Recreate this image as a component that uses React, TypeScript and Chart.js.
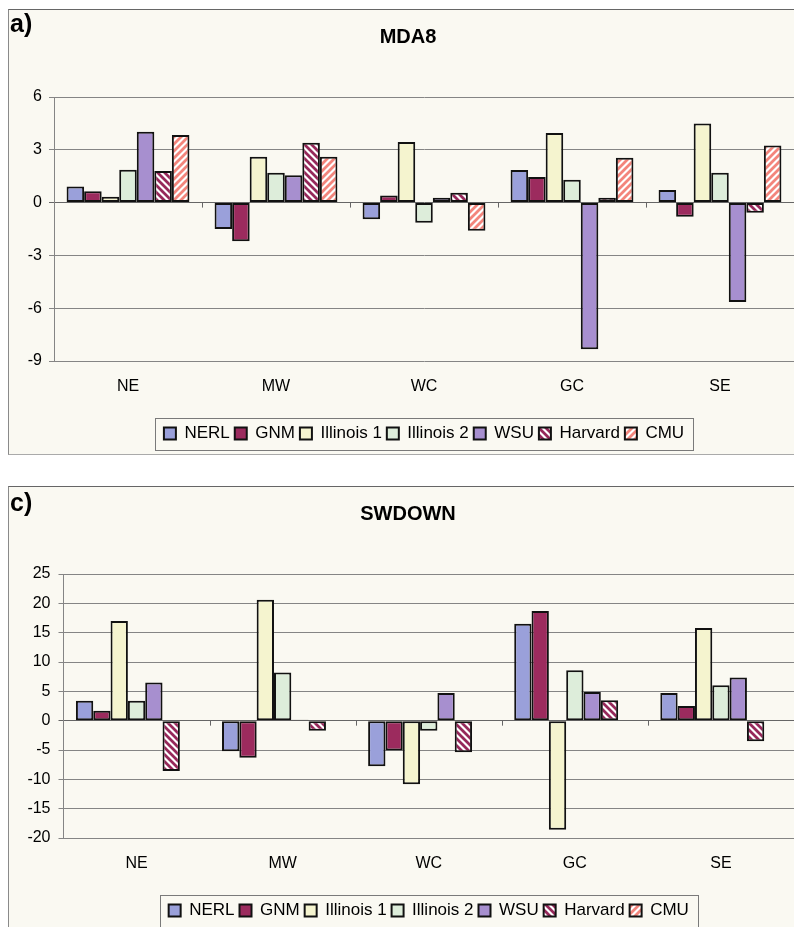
import React, { useEffect, useRef } from "react";
import { Chart, registerables } from "chart.js";

Chart.register(...registerables);

// ---------- data ----------
const regions = ["NE", "MW", "WC", "GC", "SE"];
const seriesNames = ["NERL", "GNM", "Illinois 1", "Illinois 2", "WSU", "Harvard", "CMU"];

// a) MDA8
const mda8NERL = [0.92, -1.5, -0.95, 1.85, 0.72];
const mda8GNM = [0.65, -2.2, 0.4, 1.45, -0.8];
const mda8Illinois1 = [0.33, 2.6, 3.45, 3.95, 4.5];
const mda8Illinois2 = [1.87, 1.7, -1.15, 1.3, 1.7];
const mda8WSU = [4.03, 1.55, 0.28, -8.33, -5.65];
const mda8Harvard = [1.8, 3.4, 0.56, 0.28, -0.58];
const mda8CMU = [3.84, 2.6, -1.6, 2.55, 3.25];
const mda8Ticks = { min: -9, max: 6, step: 3 };

// c) SWDOWN
const swNERL = [3.4, -5.2, -7.75, 16.5, 4.7];
const swGNM = [1.7, -6.3, -5.1, 18.7, 2.5];
const swIllinois1 = [17.0, 20.6, -10.85, -18.6, 15.8];
const swIllinois2 = [3.4, 8.2, -1.7, 8.6, 6.05];
const swWSU = [6.5, 0.15, 4.7, 4.9, 7.35];
const swHarvard = [-8.6, -1.7, -5.4, 3.5, -3.5];
const swCMU: (number | null)[] = [null, null, null, null, null];
const swTicks = { min: -20, max: 25, step: 5 };

// ---------- styling ----------
const FONT = "'Liberation Sans', Arial, Helvetica, sans-serif";
const solidColors = ["#9AA0DA", "#9C2B5E", "#F5F4CF", "#DDEDDA", "#A78FCF"];
const harvardStripe = "#96285A";
const cmuStripe = "#F3857C";

function makeStripe(color: string, dir: "back" | "fwd") {
  const s = 7;
  const c = document.createElement("canvas");
  c.width = s;
  c.height = s;
  const g = c.getContext("2d")!;
  g.fillStyle = "#ffffff";
  g.fillRect(0, 0, s, s);
  g.strokeStyle = color;
  g.lineWidth = 2.8;
  g.beginPath();
  for (const o of [-s, 0, s]) {
    if (dir === "back") {
      g.moveTo(o - 1, -1);
      g.lineTo(o + s + 1, s + 1);
    } else {
      g.moveTo(o - 1, s + 1);
      g.lineTo(o + s + 1, -1);
    }
  }
  g.stroke();
  return g.createPattern(c, "repeat")!;
}

const extrasPlugin = {
  id: "extras",
  beforeDatasetsDraw(chart: any) {
    const ctx = chart.ctx;
    const xs = chart.scales.x;
    const ys = chart.scales.y;
    const y0 = ys.getPixelForValue(0);
    const cw = xs.width / regions.length;
    ctx.save();
    ctx.strokeStyle = "#666";
    ctx.lineWidth = 1;
    ctx.beginPath();
    for (let i = 1; i < regions.length; i++) {
      const x = Math.round(xs.getPixelForValue(i) - cw / 2) + 0.5;
      ctx.moveTo(x, y0);
      ctx.lineTo(x, y0 + 5);
    }
    ctx.stroke();
    ctx.restore();
  },
  afterDraw(chart: any) {
    const lg = chart.legend;
    if (!lg || !lg.legendHitBoxes || !lg.legendHitBoxes.length) return;
    const hb = lg.legendHitBoxes;
    const l = Math.min(...hb.map((h: any) => h.left));
    const r = Math.max(...hb.map((h: any) => h.left + h.width));
    const cy = hb[0].top + hb[0].height / 2;
    const ctx = chart.ctx;
    ctx.save();
    ctx.strokeStyle = "#7a7a7a";
    ctx.lineWidth = 1;
    ctx.strokeRect(Math.round(l - 9) + 0.5, Math.round(cy - 16) + 0.5, Math.round(r - l + 18), 32);
    ctx.restore();
  },
};

function buildConfig(
  title: string,
  values: (number | null)[][],
  ticks: { min: number; max: number; step: number },
  yWidth: number,
  yPad: number,
  patterns: CanvasPattern[]
): any {
  const fills: any[] = [...solidColors, patterns[0], patterns[1]];
  return {
    type: "bar",
    data: {
      labels: regions,
      datasets: seriesNames.map((name, i) => ({
        label: name,
        data: values[i],
        backgroundColor: fills[i],
        borderColor: "#111111",
        borderWidth: 2,
        borderSkipped: false,
        categoryPercentage: 0.83,
        barPercentage: 1.0,
      })),
    },
    options: {
      responsive: false,
      animation: false,
      devicePixelRatio: 1,
      layout: { padding: { left: 14, right: 0, top: 0, bottom: 2 } },
      plugins: {
        title: {
          display: true,
          text: title,
          color: "#000",
          font: { family: FONT, size: 20, weight: "bold" },
          padding: { top: 16, bottom: 48 },
        },
        legend: {
          display: true,
          position: "bottom",
          fullSize: false,
          labels: {
            boxWidth: 12,
            boxHeight: 12,
            padding: 5,
            color: "#000",
            font: { family: FONT, size: 17 },
          },
        },
        tooltip: { enabled: false },
      },
      scales: {
        x: {
          grid: { display: false, drawTicks: false },
          border: { display: false },
          ticks: { color: "#000", font: { family: FONT, size: 16 }, padding: 16 },
          afterFit: (s: any) => {
            s.height = 59;
          },
        },
        y: {
          min: ticks.min,
          max: ticks.max,
          ticks: {
            stepSize: ticks.step,
            color: "#000",
            font: { family: FONT, size: 16 },
            padding: yPad,
          },
          grid: {
            color: (c: any) => (c.tick && c.tick.value === 0 ? "#666" : "#858585"),
            lineWidth: 1,
            tickLength: 5,
            drawTicks: true,
          },
          border: { display: true, color: "#858585" },
          afterFit: (s: any) => {
            s.width = yWidth;
          },
        },
      },
    },
    plugins: [extrasPlugin],
  };
}

export default function App() {
  const topRef = useRef<HTMLCanvasElement>(null);
  const botRef = useRef<HTMLCanvasElement>(null);

  useEffect(() => {
    const harvard = makeStripe(harvardStripe, "back");
    const cmu = makeStripe(cmuStripe, "fwd");
    const c1 = new Chart(
      topRef.current!,
      buildConfig(
        "MDA8",
        [mda8NERL, mda8GNM, mda8Illinois1, mda8Illinois2, mda8WSU, mda8Harvard, mda8CMU],
        mda8Ticks,
        32,
        7,
        [harvard, cmu]
      )
    );
    const c2 = new Chart(
      botRef.current!,
      buildConfig(
        "SWDOWN",
        [swNERL, swGNM, swIllinois1, swIllinois2, swWSU, swHarvard, swCMU],
        swTicks,
        41.5,
        8,
        [harvard, cmu]
      )
    );
    return () => {
      c1.destroy();
      c2.destroy();
    };
  }, []);

  const panel: React.CSSProperties = {
    position: "absolute",
    left: 8,
    width: 800,
    boxSizing: "border-box",
    borderTop: "1px solid #666",
    borderLeft: "1px solid #8a8a8a",
    background: "#FAF9F2",
  };
  const label: React.CSSProperties = {
    position: "absolute",
    left: 10,
    font: `bold 25px ${FONT}`,
    lineHeight: 1,
    color: "#000",
  };

  return (
    <div
      style={{
        position: "absolute",
        left: 0,
        top: 0,
        width: 794,
        height: 927,
        overflow: "hidden",
        background: "#fff",
      }}
    >
      <div style={{ ...panel, top: 9, height: 446, borderBottom: "1px solid #aaa" }} />
      <div style={{ ...panel, top: 486, height: 460 }} />
      <canvas ref={topRef} width={786} height={445} style={{ position: "absolute", left: 8, top: 9 }} />
      <canvas ref={botRef} width={786} height={445} style={{ position: "absolute", left: 8, top: 486 }} />
      <div style={{ ...label, top: 11 }}>a)</div>
      <div style={{ ...label, top: 490 }}>c)</div>
    </div>
  );
}
